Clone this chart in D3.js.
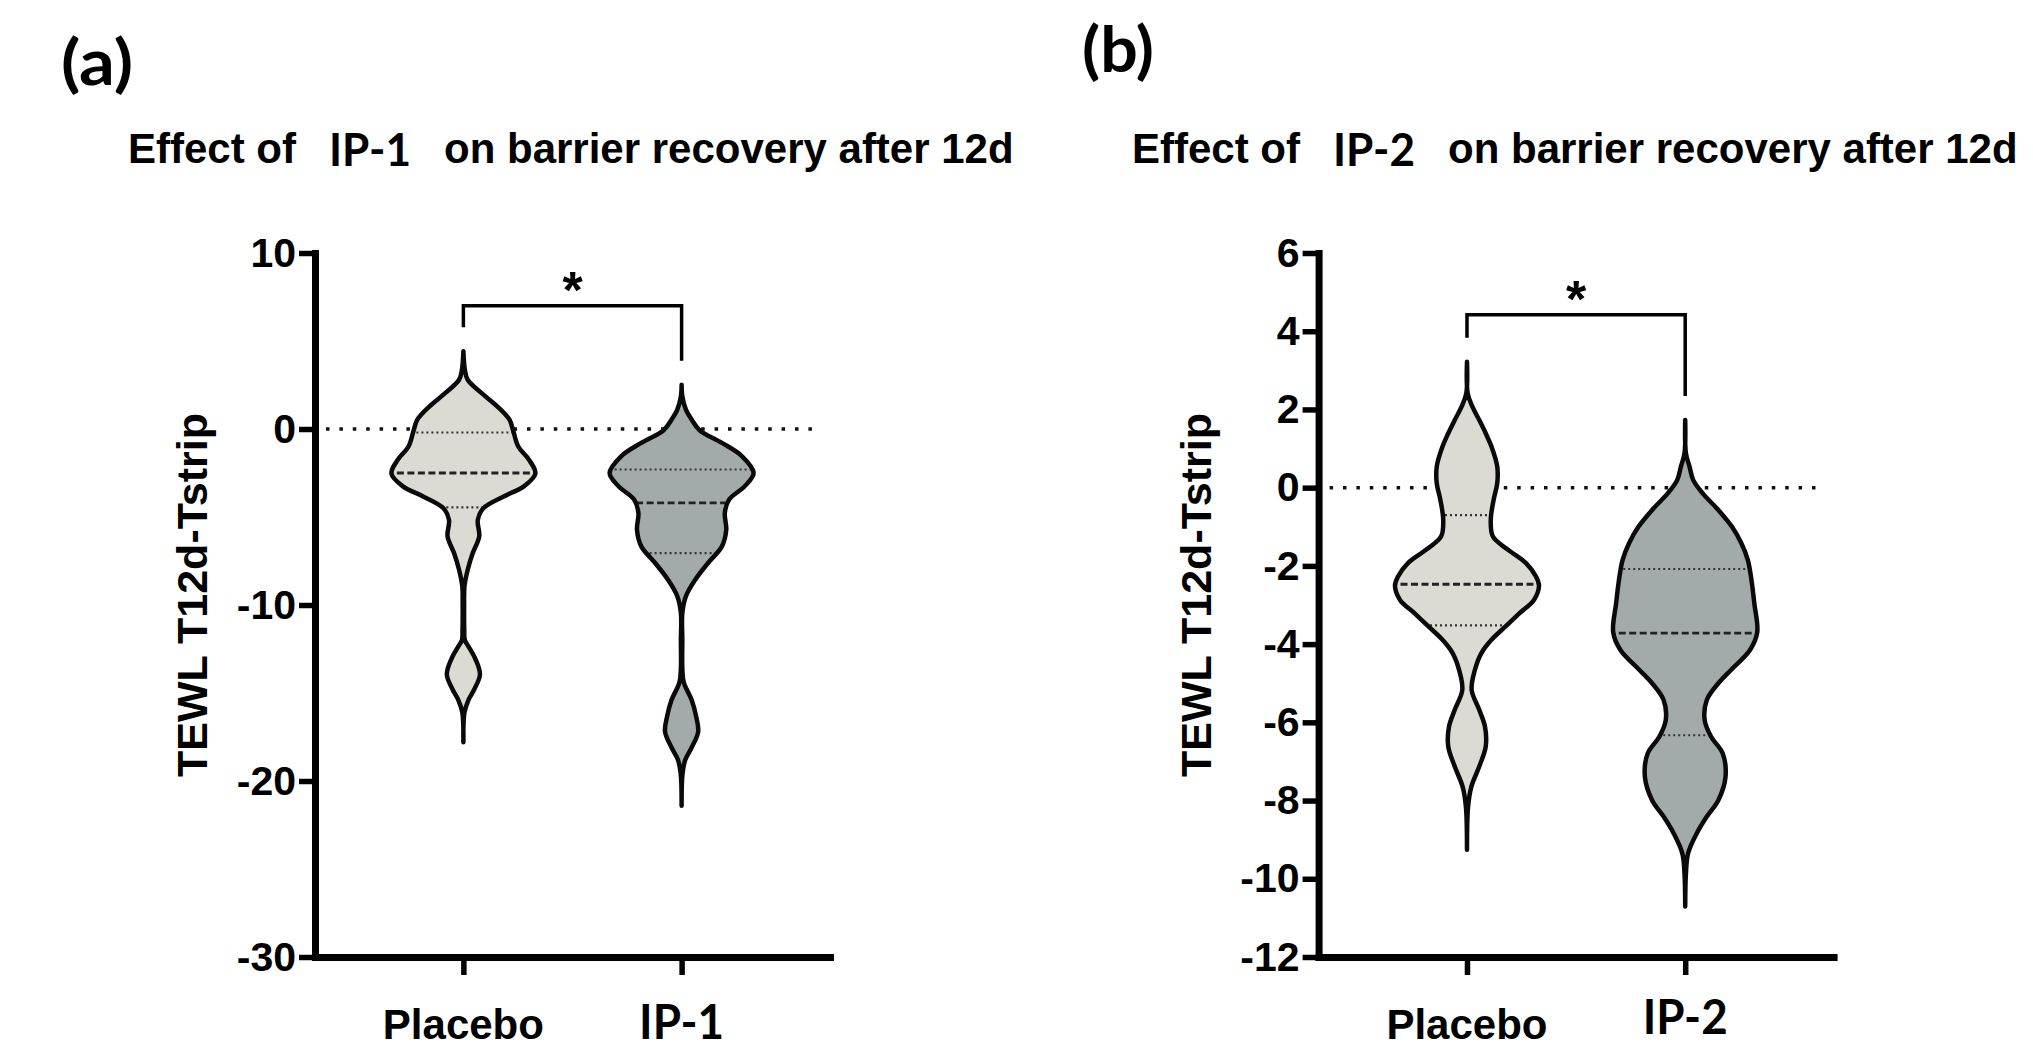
<!DOCTYPE html>
<html lang="en">
<head>
<meta charset="UTF-8">
<title>Effect of IP-1 / IP-2 on barrier recovery</title>
<style>
  body { margin: 0; background: #fff; }
  svg { display: block; }
  .arial { font-family: "Liberation Sans", Arial, sans-serif; font-weight: bold; }
  .calibri { font-family: Lato, "Open Sans", sans-serif; font-weight: bold; }
</style>
</head>
<body>
<div id="chart"></div>
<script src="https://d3js.org/d3.v7.min.js"></script>
<script>
const width = 2033;
const height = 1049;

// categories and ticks
const catsA = ["Placebo", "IP-1"];
const catsB = ["Placebo", "IP-2"];
const yTicksA = [10, 0, -10, -20, -30];
const yTicksB = [6, 4, 2, 0, -2, -4, -6, -8, -10, -12];

// violin outlines: value and relative half-width (1 = widest)
const placeboA_v = [4.42, 3.37, 2.8, 2.05, 1.29, 0.53, -0.07, -0.98, -1.74, -2.53, -3.26, -3.83, -4.49, -5.16, -6.1, -7.05, -8.0, -8.94, -10.0, -11.4, -12.0, -12.35, -13.1, -13.95, -14.8, -15.4, -16.1, -17.8];
const placeboA_w = [0, 0.02, 0.06, 0.25, 0.47, 0.64, 0.69, 0.76, 0.91, 1.0, 0.84, 0.56, 0.28, 0.2, 0.22, 0.13, 0.06, 0.015, 0.01, 0.012, 0.02, 0.07, 0.17, 0.23, 0.15, 0.07, 0.015, 0];
const ip1_v = [2.52, 1.86, 1.1, 0.53, -0.07, -0.79, -1.55, -2.5, -3.26, -4.01, -4.77, -5.72, -6.67, -7.6, -8.56, -9.5, -10.45, -12.0, -13.6, -14.4, -15.4, -16.3, -17.2, -18.1, -18.8, -19.6, -21.4];
const ip1_w = [0, 0.01, 0.06, 0.14, 0.25, 0.56, 0.84, 1.0, 0.875, 0.66, 0.6, 0.62, 0.56, 0.37, 0.19, 0.06, 0.01, 0.01, 0.01, 0.03, 0.14, 0.2, 0.23, 0.14, 0.05, 0.012, 0];
const placeboB_v = [3.22, 2.41, 2.07, 1.73, 1.39, 1.05, 0.54, 0.11, -0.31, -0.83, -1.25, -1.59, -1.93, -2.28, -2.51, -2.87, -3.21, -3.54, -3.89, -4.23, -4.66, -5.17, -5.68, -6.11, -6.62, -7.13, -7.65, -8.16, -9.26];
const placeboB_w = [0, 0.01, 0.075, 0.17, 0.26, 0.34, 0.42, 0.42, 0.37, 0.33, 0.36, 0.57, 0.82, 0.96, 1.0, 0.93, 0.73, 0.54, 0.34, 0.2, 0.11, 0.065, 0.17, 0.25, 0.26, 0.17, 0.06, 0.015, 0];
const ip2_v = [1.73, 0.88, 0.54, 0.2, -0.14, -0.57, -1.0, -1.42, -1.85, -2.36, -2.96, -3.7, -4.15, -4.58, -5.0, -5.43, -5.94, -6.37, -6.79, -7.39, -7.99, -8.41, -8.84, -9.35, -9.86, -10.71];
const ip2_w = [0, 0.01, 0.06, 0.11, 0.24, 0.46, 0.65, 0.78, 0.87, 0.92, 0.96, 1.0, 0.9, 0.68, 0.46, 0.3, 0.27, 0.36, 0.52, 0.56, 0.46, 0.3, 0.16, 0.04, 0.01, 0];

// median and quartiles per group
const mediansA = [-2.5, -4.2];
const q1A = [-4.45, -7.05];
const q3A = [-0.2, -2.3];
const mediansB = [-2.47, -3.72];
const q1B = [-3.52, -6.33];
const q3B = [-0.7, -2.08];

// significance bracket height (data units)
const bracketA = 7.0;
const bracketB = 4.42;

const svg = d3.select('#chart')
    .append('svg')
    .attr('width', width)
    .attr('height', height);

svg.append('rect').attr('width', width).attr('height', height).attr('fill', '#fff');

const panels = [
    {
        id: 'a', label: '(a)', labelX: 61, labelY: 85, drug: 'IP-1', titleX: 128,
        left: 315, yDomain: [-30, 10], yTicks: yTicksA, cats: catsA,
        violins: [{ v: placeboA_v, w: placeboA_w }, { v: ip1_v, w: ip1_w }],
        medians: mediansA, q1: q1A, q3: q3A, bracket: bracketA, ipLabelY: 1039
    },
    {
        id: 'b', label: '(b)', labelX: 1082, labelY: 72, drug: 'IP-2', titleX: 1132,
        left: 1318.6, yDomain: [-12, 6], yTicks: yTicksB, cats: catsB,
        violins: [{ v: placeboB_v, w: placeboB_w }, { v: ip2_v, w: ip2_w }],
        medians: mediansB, q1: q1B, q3: q3B, bracket: bracketB, ipLabelY: 1034
    }
];

const fills = ['#dcdbd3', '#a3aaaa'];
const maxHalf = 72;

function drawPanel(p) {
    const y = d3.scaleLinear().domain(p.yDomain).range([957, 253]);
    const x = d3.scalePoint().domain(p.cats).range([p.left, p.left + 515]).padding(0.68);
    const g = svg.append('g');

    // panel letter and title
    g.append('text').attr('class', 'calibri')
        .attr('x', p.labelX).attr('y', p.labelY)
        .attr('font-size', 64)
        .attr('textLength', 72).attr('lengthAdjust', 'spacingAndGlyphs')
        .text(p.label);

    g.append('text').attr('class', 'arial')
        .attr('x', p.titleX).attr('y', 163).attr('font-size', 42)
        .text('Effect of');
    g.append('text').attr('class', 'calibri')
        .attr('x', p.titleX + 201).attr('y', 166).attr('font-size', 45)
        .attr('textLength', 82).attr('lengthAdjust', 'spacingAndGlyphs')
        .text(p.drug);
    g.append('text').attr('class', 'arial')
        .attr('x', p.titleX + 316).attr('y', 163).attr('font-size', 42)
        .text('on barrier recovery after 12d');

    // dotted zero line
    g.append('line')
        .attr('x1', x.range()[0] + 11).attr('x2', x.range()[1] - 10)
        .attr('y1', y(0)).attr('y2', y(0))
        .attr('stroke', '#111').attr('stroke-width', 3.5)
        .attr('stroke-dasharray', '3.5,9.9');

    p.violins.forEach((vi, i) => {
        const cx = x(p.cats[i]);
        const pts = vi.v.map((v, k) => ({ v: v, w: vi.w[k] }));
        const area = d3.area()
            .y(d => y(d.v))
            .x0(d => cx - d.w * maxHalf)
            .x1(d => cx + d.w * maxHalf)
            .curve(d3.curveCatmullRom);
        const clipId = `clip-${p.id}-${i}`;
        g.append('clipPath').attr('id', clipId)
            .append('path').attr('d', area(pts));

        g.append('path').attr('d', area(pts)).attr('fill', fills[i]);

        const inner = g.append('g').attr('clip-path', `url(#${clipId})`);
        [p.q3[i], p.q1[i]].forEach(q => {
            inner.append('line')
                .attr('x1', cx - maxHalf - 5).attr('x2', cx + maxHalf + 5)
                .attr('y1', y(q)).attr('y2', y(q))
                .attr('stroke', '#333').attr('stroke-width', 2.2)
                .attr('stroke-dasharray', '2,3');
        });
        inner.append('line')
            .attr('x1', cx - maxHalf - 5).attr('x2', cx + maxHalf + 5)
            .attr('y1', y(p.medians[i])).attr('y2', y(p.medians[i]))
            .attr('stroke', '#222').attr('stroke-width', 2.8)
            .attr('stroke-dasharray', '7,3.5');

        g.append('path').attr('d', area(pts))
            .attr('fill', 'none')
            .attr('stroke', '#0a0a0a')
            .attr('stroke-width', 4.5)
            .attr('stroke-linejoin', 'round');
    });

    // axes
    const yAxis = d3.axisLeft(y).tickValues(p.yTicks).tickSize(16).tickSizeOuter(0).tickPadding(3)
        .tickFormat(d => String(d));
    const yg = g.append('g').attr('transform', `translate(${p.left},0)`).call(yAxis);
    const xAxis = d3.axisBottom(x).tickSize(18).tickSizeOuter(0).tickFormat('');
    const xg = g.append('g').attr('transform', 'translate(0,957)').call(xAxis);

    [yg, xg].forEach(ax => {
        ax.select('.domain').attr('stroke', '#000').attr('stroke-width', 7).attr('stroke-linecap', 'square');
        ax.selectAll('.tick line').attr('stroke', '#000').attr('stroke-width', 5.5);
    });
    yg.selectAll('.tick text')
        .attr('class', 'arial')
        .attr('font-size', 41)
        .attr('fill', '#000');

    // category labels
    p.cats.forEach((c, i) => {
        const t = g.append('text')
            .attr('x', x(c))
            .attr('text-anchor', 'middle')
            .text(c);
        if (i === 0) {
            t.attr('class', 'arial').attr('y', 1039).attr('font-size', 42);
        } else {
            t.attr('class', 'calibri').attr('y', p.ipLabelY).attr('font-size', 47)
                .attr('textLength', 85).attr('lengthAdjust', 'spacingAndGlyphs');
        }
    });

    // y axis title
    g.append('text').attr('class', 'arial')
        .attr('transform', `translate(${p.left - 108},595) rotate(-90)`)
        .attr('text-anchor', 'middle')
        .attr('font-size', 43)
        .text('TEWL T12d-Tstrip');

    // significance bracket
    const xl = x(p.cats[0]);
    const xr = x(p.cats[1]);
    const yb = y(p.bracket);
    const legL = y(d3.max(p.violins[0].v)) - 24;
    const legR = y(d3.max(p.violins[1].v)) - 24;
    g.append('path')
        .attr('d', `M${xl},${legL}V${yb}H${xr}V${legR}`)
        .attr('fill', 'none').attr('stroke', '#000').attr('stroke-width', 3.5);
    g.append('text').attr('class', 'arial')
        .attr('x', (xl + xr) / 2).attr('y', yb + 2)
        .attr('text-anchor', 'middle').attr('font-size', 52)
        .text('*');
}

panels.forEach(drawPanel);
</script>
</body>
</html>
